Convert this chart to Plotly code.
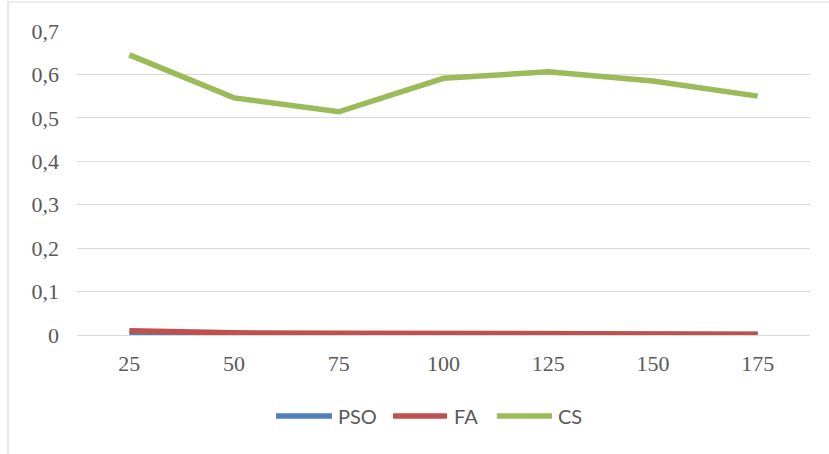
import plotly.graph_objects as go

x_labels = ["25", "50", "75", "100", "125", "150", "175"]
pso = [0.002, 0.001, 0.001, 0.001, 0.001, 0.001, 0.001]
fa = [0.010, 0.005, 0.004, 0.004, 0.003, 0.003, 0.002]
cs = [0.645, 0.546, 0.514, 0.591, 0.606, 0.585, 0.550]
series_names = ["PSO", "FA", "CS"]
series_colors = ["#4F81BD", "#C0504D", "#9BBB59"]
y_ticks = [0, 0.1, 0.2, 0.3, 0.4, 0.5, 0.6, 0.7]
y_tick_text = ["0", "0,1", "0,2", "0,3", "0,4", "0,5", "0,6", "0,7"]

fig = go.Figure()
for name, vals, color in zip(series_names, [pso, fa, cs], series_colors):
    fig.add_trace(go.Scatter(x=x_labels, y=vals, name=name, mode="lines",
                             line=dict(color=color, width=5.5), showlegend=False))

L, R, T, B = 77, 19, 31, 119
W, H = 829, 454
pw, ph = W - L - R, H - T - B

def px(x):
    return (x - L) / pw

def py(y):
    return (H - B - y) / ph

# manual legend (pixel layout of the legend row)
legend_line_x = [(276, 332), (393, 447), (497, 552)]
legend_text_x = [336, 452, 556]
legend_y = 416
shapes = [dict(type="rect", xref="paper", yref="paper",
               x0=px(8), x1=px(835), y0=py(460), y1=py(2),
               line=dict(color="#D9D9D9", width=1.2), fillcolor="rgba(0,0,0,0)", layer="below")]
annotations = []
for (x0, x1), tx, name, color in zip(legend_line_x, legend_text_x, series_names, series_colors):
    shapes.append(dict(type="line", xref="paper", yref="paper", x0=px(x0), x1=px(x1),
                       y0=py(legend_y), y1=py(legend_y), line=dict(color=color, width=5.5)))
    annotations.append(dict(xref="paper", yref="paper", x=px(tx), y=py(legend_y), text=name,
                            showarrow=False, xanchor="left", yanchor="middle",
                            font=dict(family="Lato, Carlito, sans-serif", size=20, color="#595959")))

fig.update_layout(
    width=W, height=H,
    margin=dict(l=L, r=R, t=T, b=B, pad=0),
    paper_bgcolor="white", plot_bgcolor="white",
    separators=",.",
    showlegend=False,
    xaxis=dict(type="category", range=[-0.5, 6.5], showgrid=False, showline=True,
               linecolor="#D9D9D9", linewidth=1, ticks="", zeroline=False,
               tickfont=dict(family="Liberation Serif, Times New Roman, serif", size=22, color="#595959"),
               ticklabelstandoff=9),
    yaxis=dict(range=[0, 0.7], tickvals=y_ticks, ticktext=y_tick_text, showgrid=True,
               gridcolor="#D9D9D9", gridwidth=1, zeroline=False, showline=False, ticks="",
               tickfont=dict(family="Liberation Serif, Times New Roman, serif", size=22, color="#595959"),
               ticklabelstandoff=17),
    shapes=shapes,
    annotations=annotations,
)

fig.write_html("out.html", config={"displayModeBar": False},
               post_script="document.body.style.margin='0';document.body.style.overflow='hidden';")
